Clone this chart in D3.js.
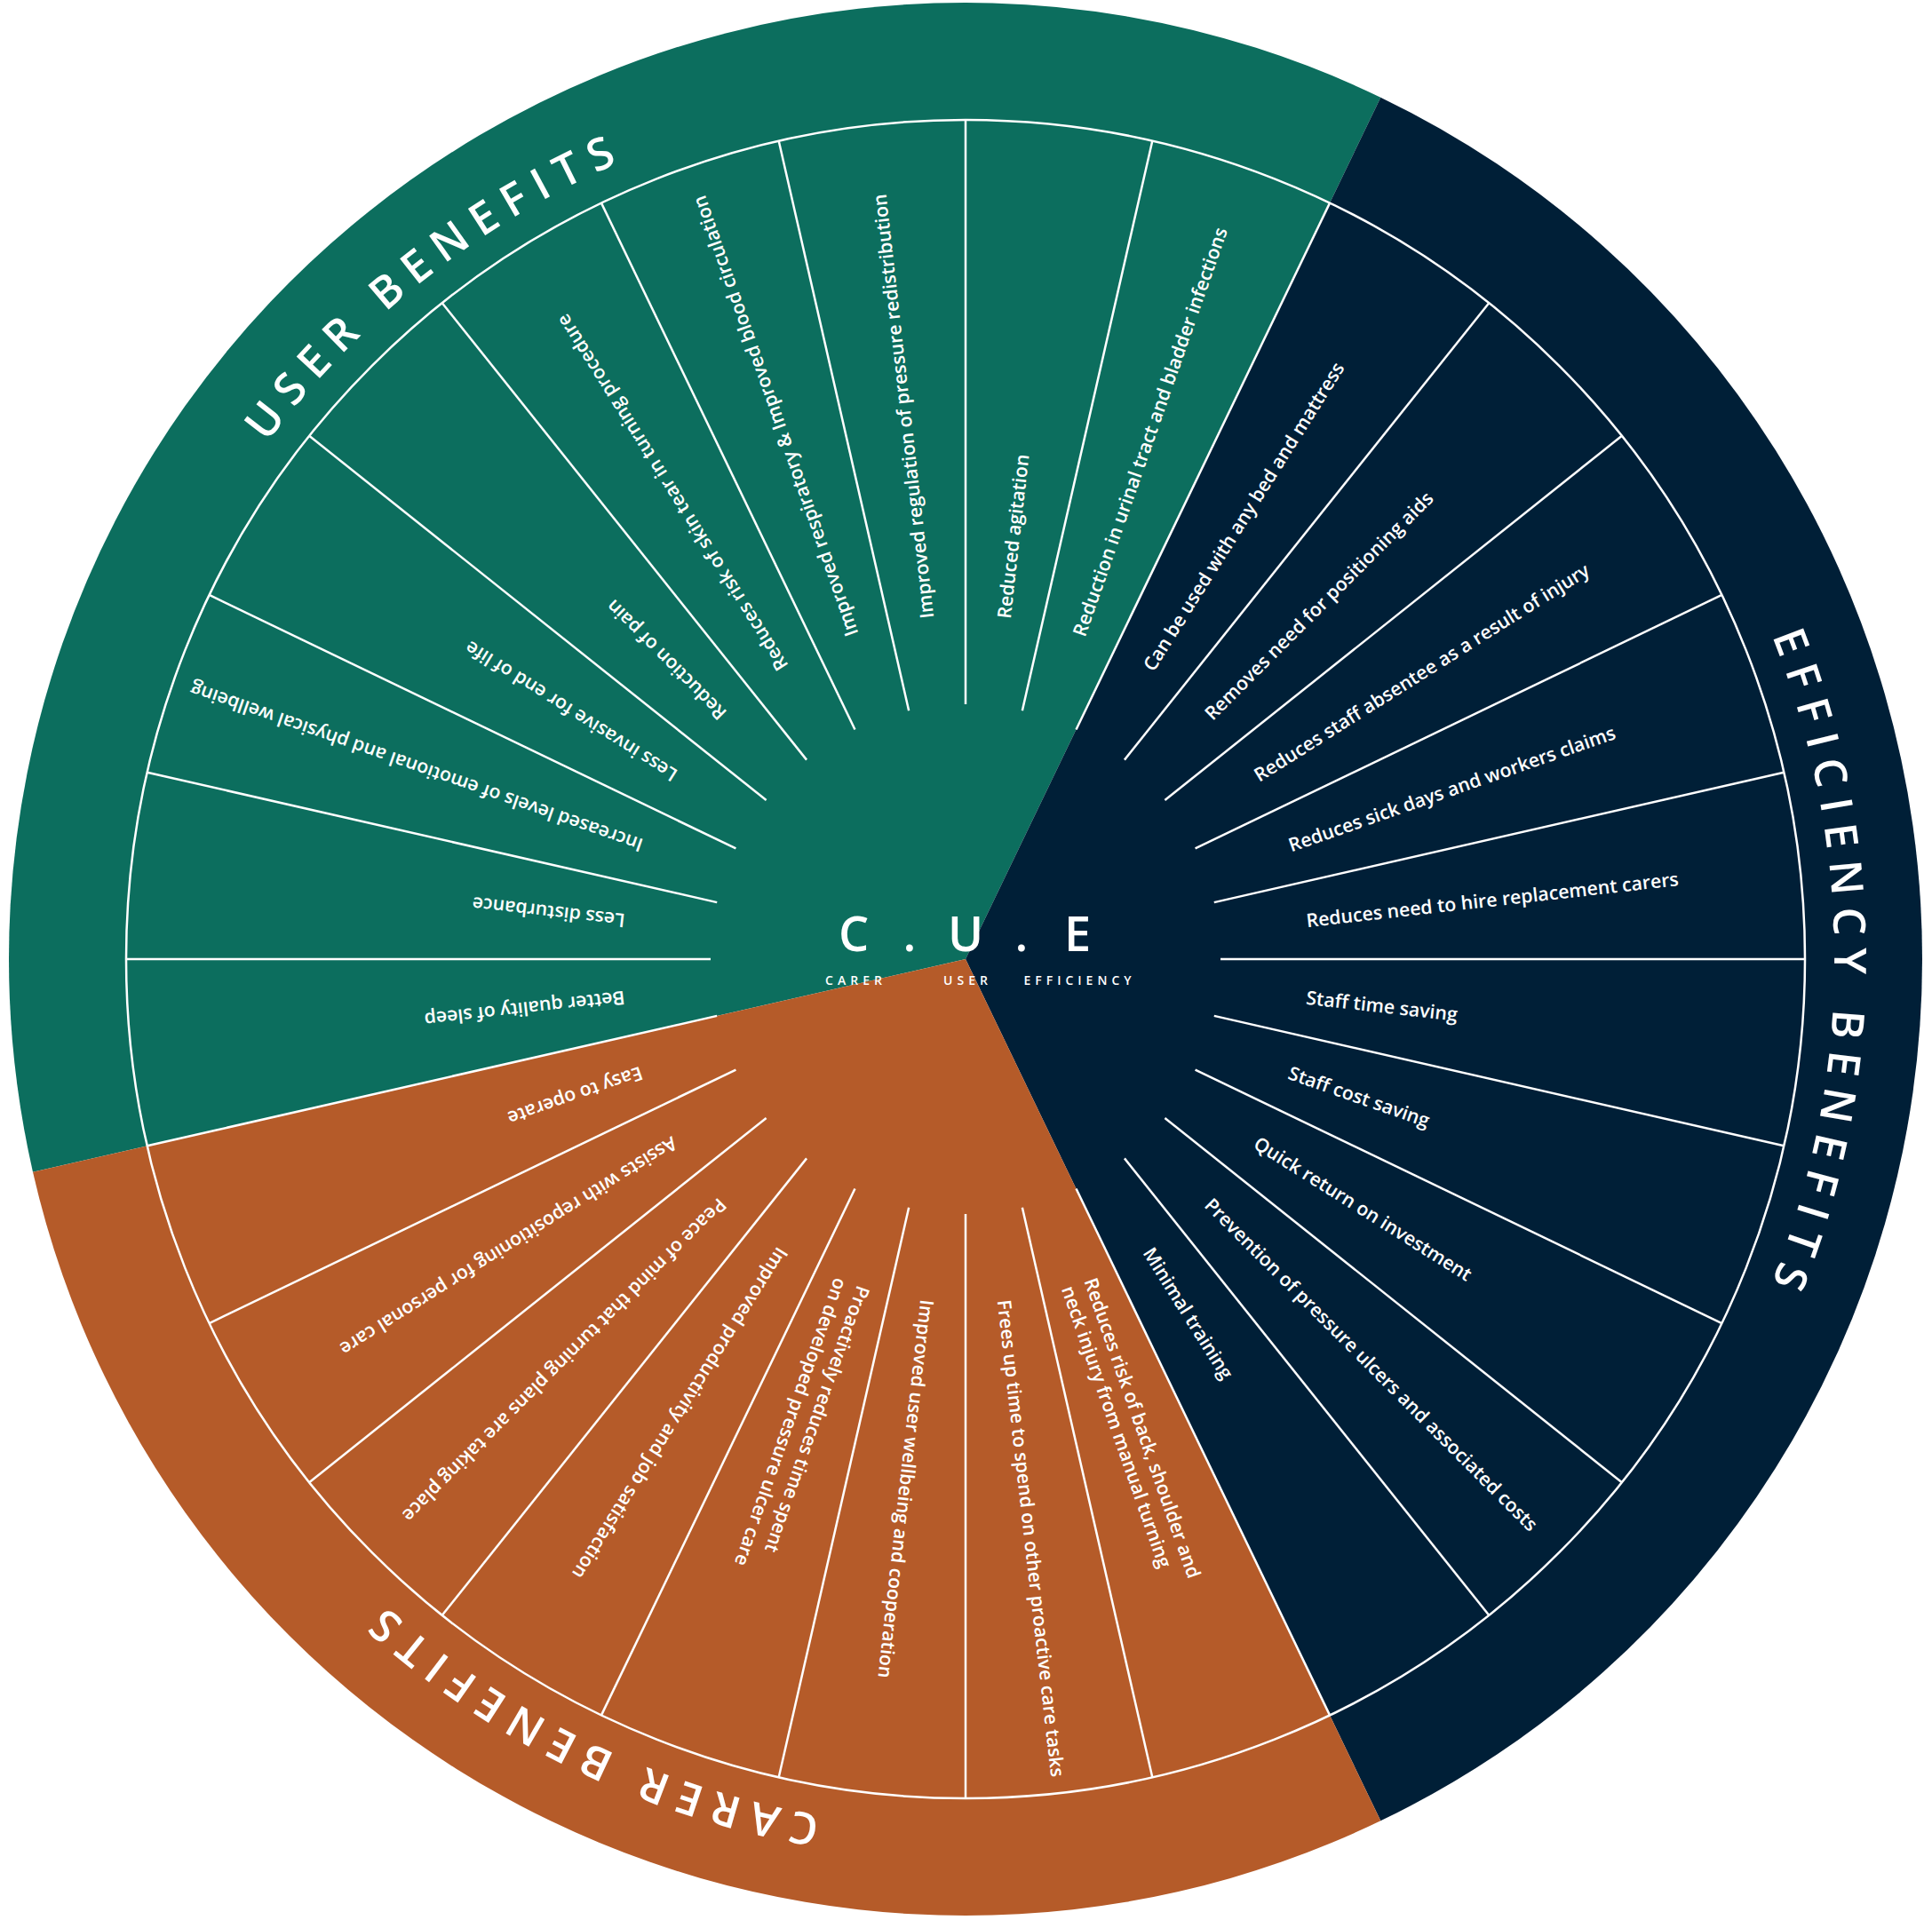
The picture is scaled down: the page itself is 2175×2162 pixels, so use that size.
<!DOCTYPE html>
<html>
<head>
<meta charset="utf-8">
<script src="https://cdn.jsdelivr.net/npm/d3@7"></script>
<style>
  html, body { margin: 0; padding: 0; background: #fff; }
  svg { display: block; font-family: "Open Sans", Lato, sans-serif; }
</style>
</head>
<body>
<div id="chart-container"></div>
<script>
// sector titles, clockwise starting with the green one
const sectorNames = ['USER BENEFITS', 'EFFICIENCY BENEFITS', 'CARER BENEFITS'];
const sectorKeys = ['user', 'efficiency', 'carer'];

// benefits in each sector, clockwise ("\n" = line break)
const userBenefits = [
  'Better quality of sleep',
  'Less disturbance',
  'Increased levels of emotional and physical wellbeing',
  'Less invasive for end of life',
  'Reduction of pain',
  'Reduces risk of skin tear in turning procedure',
  'Improved respiratory & Improved blood circulation',
  'Improved regulation of pressure redistribution',
  'Reduced agitation',
  'Reduction in urinal tract and bladder infections'
];
const efficiencyBenefits = [
  'Can be used with any bed and mattress',
  'Removes need for positioning aids',
  'Reduces staff absentee as a result of injury',
  'Reduces sick days and workers claims',
  'Reduces need to hire replacement carers',
  'Staff time saving',
  'Staff cost saving',
  'Quick return on investment',
  'Prevention of pressure ulcers and associated costs',
  'Minimal training'
];
const carerBenefits = [
  'Reduces risk of back, shoulder and\nneck injury from manual turning',
  'Frees up time to spend on other proactive care tasks',
  'Improved user wellbeing and cooperation',
  'Proactively reduces time spent\non developed pressure ulcer care',
  'Improved productivity and job satisfaction',
  'Peace of mind that turning plans are taking place',
  'Assists with repositioning for personal care',
  'Easy to operate'
];

const centreLetters = ['C', 'U', 'E'];
const centreWords = ['CARER', 'USER', 'EFFICIENCY'];

// layout
const svgWidth = 2175, svgHeight = 2162;
const cx = 1087, cy = 1080;
const rOuter = 1077, rInner = 945, rSpoke = 287, rLabel = 386, rTitle = 978;
const lineColor = '#ffffff';
const titleDegPerChar = 2.3;

const groups = [userBenefits, efficiencyBenefits, carerBenefits];
const items = groups.flatMap((g, gi) => g.map(t => ({ text: t, group: sectorKeys[gi] })));

// the green sector begins 8 segments before 12 o'clock
const step = 2 * Math.PI / items.length;
const a0 = -8 * step;

const angle = d3.scaleLinear()
  .domain([0, items.length])
  .range([a0, a0 + 2 * Math.PI]);

const color = d3.scaleOrdinal()
  .domain(sectorKeys)
  .range(['#0c6e5e', '#001f37', '#b55b29']);

const deg = a => a * 180 / Math.PI;

const svg = d3.select('#chart-container')
  .append('svg')
  .attr('width', svgWidth)
  .attr('height', svgHeight);

const g = svg.append('g')
  .attr('transform', `translate(${cx},${cy})`);

// coloured sectors
const pie = d3.pie().sort(null).value(d => d.length)
  .startAngle(a0).endAngle(a0 + 2 * Math.PI);
const sectors = pie(groups);

g.selectAll('path.sector')
  .data(sectors)
  .join('path')
  .attr('class', 'sector')
  .attr('d', d3.arc().innerRadius(0).outerRadius(rOuter))
  .attr('fill', (d, i) => color(sectorKeys[i]));

// inner ring line
g.append('circle')
  .attr('r', rInner)
  .attr('fill', 'none')
  .attr('stroke', lineColor)
  .attr('stroke-width', 2.5);

// spokes between the benefits
g.selectAll('line.spoke')
  .data(d3.range(items.length))
  .join('line')
  .attr('class', 'spoke')
  .attr('x1', i => d3.pointRadial(angle(i), rSpoke)[0])
  .attr('y1', i => d3.pointRadial(angle(i), rSpoke)[1])
  .attr('x2', i => d3.pointRadial(angle(i), rInner)[0])
  .attr('y2', i => d3.pointRadial(angle(i), rInner)[1])
  .attr('stroke', lineColor)
  .attr('stroke-width', 2.5);

// benefit labels, reading outwards
const labels = g.selectAll('text.label')
  .data(items)
  .join('text')
  .attr('class', 'label')
  .attr('transform', (d, i) => `rotate(${deg(angle(i + 0.5)) - 90}) translate(${rLabel},0)`)
  .attr('fill', '#fff')
  .style('font-size', '21.3px')
  .style('font-weight', 600);

labels.each(function (d) {
  const lines = d.text.split('\n');
  const lineH = 27;
  d3.select(this).selectAll('tspan')
    .data(lines)
    .join('tspan')
    .attr('x', 0)
    .attr('y', (l, j) => (j - (lines.length - 1) / 2) * lineH)
    .attr('dy', '0.35em')
    .text(l => l);
});

// curved sector titles in the outer ring
const defs = svg.append('defs');
const measure = svg.append('text')
  .style('font-size', '50px')
  .style('font-weight', 600)
  .attr('visibility', 'hidden');

sectors.forEach((s, i) => {
  const name = sectorNames[i];
  const mid = (s.startAngle + s.endAngle) / 2;
  const span = name.length * titleDegPerChar * Math.PI / 180;
  const start = mid - span / 2;
  const end = start + span + 0.3;
  const p0 = d3.pointRadial(start, rTitle);
  const p1 = d3.pointRadial(end, rTitle);
  defs.append('path')
    .attr('id', 'title-arc-' + i)
    .attr('d', `M${p0[0]},${p0[1]} A${rTitle},${rTitle} 0 0 1 ${p1[0]},${p1[1]}`);

  measure.text(name);
  const natural = measure.node().getComputedTextLength();
  const spacing = (span * rTitle - natural) / (name.length - 1);

  g.append('text')
    .attr('fill', '#fff')
    .style('font-size', '50px')
    .style('font-weight', 600)
    .style('letter-spacing', spacing + 'px')
    .append('textPath')
    .attr('href', '#title-arc-' + i)
    .text(name);
});
measure.remove();

// centre C . U . E
const xCentre = d3.scalePoint()
  .domain(centreLetters)
  .range([-126, 126]);

g.selectAll('text.centre-letter')
  .data(centreLetters)
  .join('text')
  .attr('class', 'centre-letter')
  .attr('x', d => xCentre(d))
  .attr('y', -9)
  .attr('text-anchor', 'middle')
  .attr('fill', '#fff')
  .style('font-size', '54px')
  .style('font-weight', 600)
  .text(d => d);

g.selectAll('text.centre-dot')
  .data(d3.pairs(centreLetters))
  .join('text')
  .attr('class', 'centre-dot')
  .attr('x', d => (xCentre(d[0]) + xCentre(d[1])) / 2)
  .attr('y', -9)
  .attr('text-anchor', 'middle')
  .attr('fill', '#fff')
  .style('font-size', '54px')
  .style('font-weight', 600)
  .text('.');

g.selectAll('text.centre-word')
  .data(centreWords)
  .join('text')
  .attr('class', 'centre-word')
  .attr('x', (d, i) => xCentre(centreLetters[i]) + 2.5)
  .attr('y', 29)
  .attr('text-anchor', 'middle')
  .attr('fill', '#fff')
  .style('font-size', '14px')
  .style('font-weight', 600)
  .style('letter-spacing', '5px')
  .text(d => d);
</script>
</body>
</html>
